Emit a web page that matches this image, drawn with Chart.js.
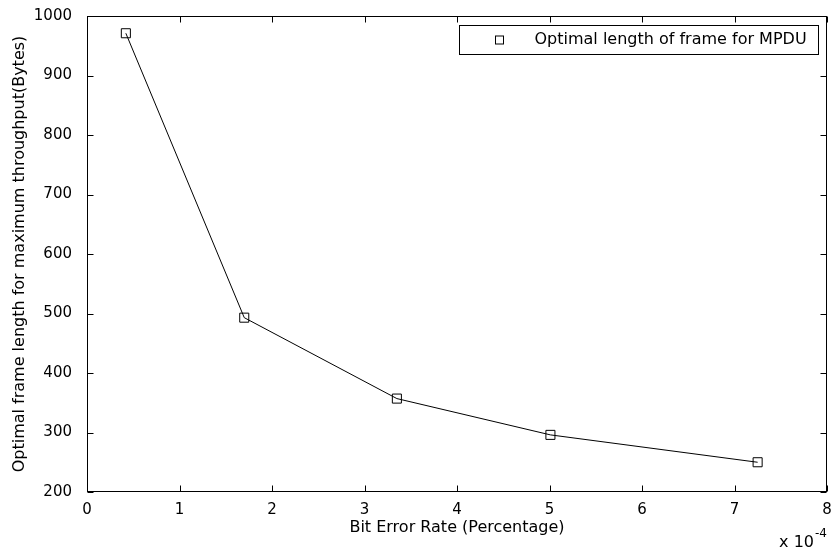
<!DOCTYPE html>
<html>
<head>
<meta charset="utf-8">
<script src="https://cdn.jsdelivr.net/npm/chart.js@4.4.0/dist/chart.umd.min.js"></script>
<style>
  html, body { margin: 0; padding: 0; background: #fff; }
  canvas { display: block; }
</style>
</head>
<body>
<canvas id="chart" width="835" height="554"></canvas>
<script>
// values (x axis is in units of 10^-4)
const bitErrorRate = [0.42, 1.70, 3.35, 5.01, 7.25]
const frameLength = [971, 493, 357, 296, 250]
const seriesLabel = 'Optimal length of frame for MPDU'
const xTitle = 'Bit Error Rate (Percentage)'
const yTitle = 'Optimal frame length for maximum throughput(Bytes)'
const xTicks = [0, 1, 2, 3, 4, 5, 6, 7, 8]
const yTicks = [200, 300, 400, 500, 600, 700, 800, 900, 1000]
const xExponent = '-4'

const FONT = 'DejaVu Sans'
Chart.defaults.font.family = FONT
Chart.defaults.color = '#000'

// matlab style box, inward ticks, legend box and the exponent label
const matlabFrame = {
  id: 'matlabFrame',
  afterDraw(chart) {
    const { ctx, chartArea: a, scales } = chart
    const L = Math.round(a.left) + 0.5
    const R = Math.round(a.right) - 0.5
    const T = Math.round(a.top) + 0.5
    const B = Math.round(a.bottom) - 0.5
    const tick = 6

    ctx.save()
    ctx.strokeStyle = '#000'
    ctx.lineWidth = 1
    ctx.strokeRect(L, T, R - L, B - T)

    ctx.beginPath()
    xTicks.forEach((v) => {
      const px = Math.round(scales.x.getPixelForValue(v)) + 0.5
      ctx.moveTo(px, B); ctx.lineTo(px, B - tick)
      ctx.moveTo(px, T); ctx.lineTo(px, T + tick)
    })
    yTicks.forEach((v) => {
      const py = Math.round(scales.y.getPixelForValue(v)) + 0.5
      ctx.moveTo(L, py); ctx.lineTo(L + tick, py)
      ctx.moveTo(R, py); ctx.lineTo(R - tick, py)
    })
    ctx.stroke()

    // legend
    const ds = chart.data.datasets[0]
    const lgRight = R - 8
    const lgLeft = lgRight - 359
    const lgTop = T + 9
    const lgBottom = lgTop + 29
    ctx.fillStyle = '#fff'
    ctx.fillRect(lgLeft, lgTop, lgRight - lgLeft, lgBottom - lgTop)
    ctx.strokeRect(lgLeft, lgTop, lgRight - lgLeft, lgBottom - lgTop)
    const midY = (lgTop + lgBottom) / 2
    ctx.strokeRect(lgLeft + 36, midY - 4, 8, 8)
    ctx.fillStyle = '#000'
    ctx.font = '16px "' + FONT + '"'
    ctx.textAlign = 'left'
    ctx.textBaseline = 'middle'
    ctx.fillText(ds.label, lgLeft + 75, midY)

    // x 10^-4
    ctx.textBaseline = 'alphabetic'
    ctx.font = '12px "' + FONT + '"'
    const supW = ctx.measureText(xExponent).width
    ctx.font = '16px "' + FONT + '"'
    const baseW = ctx.measureText('x 10').width
    const baseX = a.right - 1 - supW - baseW
    const baseY = a.bottom + 55
    ctx.fillText('x 10', baseX, baseY)
    ctx.font = '12px "' + FONT + '"'
    ctx.fillText(xExponent, baseX + baseW + 1, baseY - 10)
    ctx.restore()
  },
}

const ctx = document.getElementById('chart').getContext('2d')
new Chart(ctx, {
  type: 'scatter',
  plugins: [matlabFrame],
  data: {
    datasets: [
      {
        label: seriesLabel,
        data: bitErrorRate.map((x, i) => ({ x: x, y: frameLength[i] })),
        showLine: true,
        borderColor: '#000',
        borderWidth: 1,
        pointStyle: 'rect',
        pointRadius: 6.4,
        pointBorderWidth: 1,
        pointBorderColor: '#000',
        pointBackgroundColor: 'rgba(0,0,0,0)',
      },
    ],
  },
  options: {
    responsive: false,
    animation: false,
    layout: { padding: { left: 0, right: 8, top: 13, bottom: 0 } },
    plugins: {
      legend: { display: false },
      tooltip: { enabled: false },
    },
    scales: {
      x: {
        type: 'linear',
        min: 0,
        max: 8,
        afterBuildTicks: (scale) => { scale.ticks = xTicks.map((v) => ({ value: v })) },
        afterFit: (scale) => { scale.height = 62 },
        grid: { display: false },
        border: { display: false },
        ticks: { padding: 1, font: { size: 15 }, maxRotation: 0, callback: (v) => String(v) },
        title: { display: true, text: xTitle, font: { size: 16 }, padding: { top: 0, bottom: 17 } },
      },
      y: {
        type: 'linear',
        min: 200,
        max: 1000,
        afterBuildTicks: (scale) => { scale.ticks = yTicks.map((v) => ({ value: v })) },
        afterFit: (scale) => { scale.width = 87 },
        grid: { display: false },
        border: { display: false },
        ticks: { padding: 7, font: { size: 15 }, callback: (v) => String(v) },
        title: { display: true, text: yTitle, font: { size: 16 }, padding: { top: 10, bottom: 0 } },
      },
    },
  },
})
</script>
</body>
</html>
